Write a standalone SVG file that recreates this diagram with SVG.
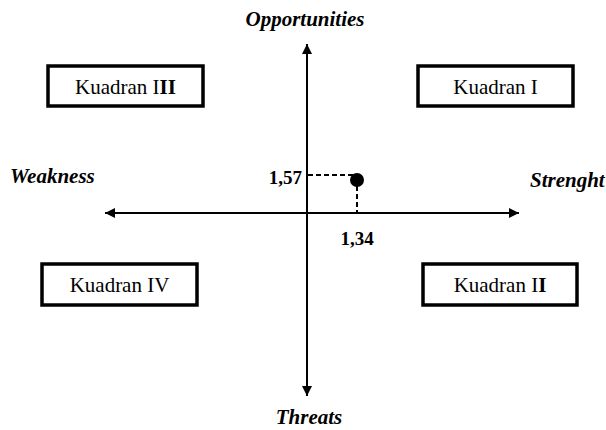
<svg xmlns="http://www.w3.org/2000/svg" width="606" height="430" viewBox="0 0 606 430">
<style>
.box{fill:#fff;stroke:#000;stroke-width:3.5}
.kt{font-family:"Liberation Serif","Times New Roman",serif;font-size:21px;fill:#000;text-anchor:middle}
.lab{font-family:"Liberation Serif","Times New Roman",serif;font-size:21px;font-weight:bold;font-style:italic;fill:#000}
.num{font-family:"Liberation Serif","Times New Roman",serif;font-size:19px;font-weight:bold;fill:#000}
.ax{stroke:#000;stroke-width:2;fill:none}
.dash{stroke:#000;stroke-width:2;stroke-dasharray:5,3;fill:none}
</style>
<defs>
<marker id="ah" viewBox="0 0 10 10" refX="10" refY="5" markerWidth="10" markerHeight="10" markerUnits="userSpaceOnUse" orient="auto">
<path d="M0,0 L10,5 L0,10 z" fill="#000"/>
</marker>
</defs>
<rect width="606" height="430" fill="#fff"/>
<g id="connectors">
<line class="ax" x1="307" y1="214" x2="307" y2="44" marker-end="url(#ah)"/>
<line class="ax" x1="307" y1="214" x2="307" y2="396" marker-end="url(#ah)"/>
<line class="ax" x1="307" y1="213" x2="105" y2="213" marker-end="url(#ah)"/>
<line class="ax" x1="307" y1="213" x2="519" y2="213" marker-end="url(#ah)"/>
<line class="dash" x1="308" y1="175" x2="355" y2="175"/>
<line class="dash" x1="357" y1="186" x2="357" y2="212"/>
</g>
<g id="point">
<circle cx="357" cy="180" r="7" fill="#000"/>
<text class="num" x="302" y="184" text-anchor="end">1,57</text>
<text class="num" x="357" y="245" text-anchor="middle">1,34</text>
</g>
<g id="kuadran3">
<rect class="box" x="48" y="66" width="155" height="40"/>
<text class="kt" x="125.5" y="94">Kuadran I<tspan font-weight="bold">II</tspan></text>
</g>
<g id="kuadran1">
<rect class="box" x="418" y="66" width="155" height="40"/>
<text class="kt" x="495.5" y="94">Kuadran I</text>
</g>
<g id="kuadran4">
<rect class="box" x="42" y="264" width="155" height="41"/>
<text class="kt" x="119.5" y="292">Kuadran IV</text>
</g>
<g id="kuadran2">
<rect class="box" x="423" y="264" width="154" height="41"/>
<text class="kt" x="500" y="292">Kuadran I<tspan font-weight="bold">I</tspan></text>
</g>
<g id="labels">
<text class="lab" x="305" y="26" text-anchor="middle">Opportunities</text>
<text class="lab" x="309" y="424" text-anchor="middle">Threats</text>
<text class="lab" x="10" y="183">Weakness</text>
<text class="lab" x="530" y="187">Strenght</text>
</g>
</svg>
